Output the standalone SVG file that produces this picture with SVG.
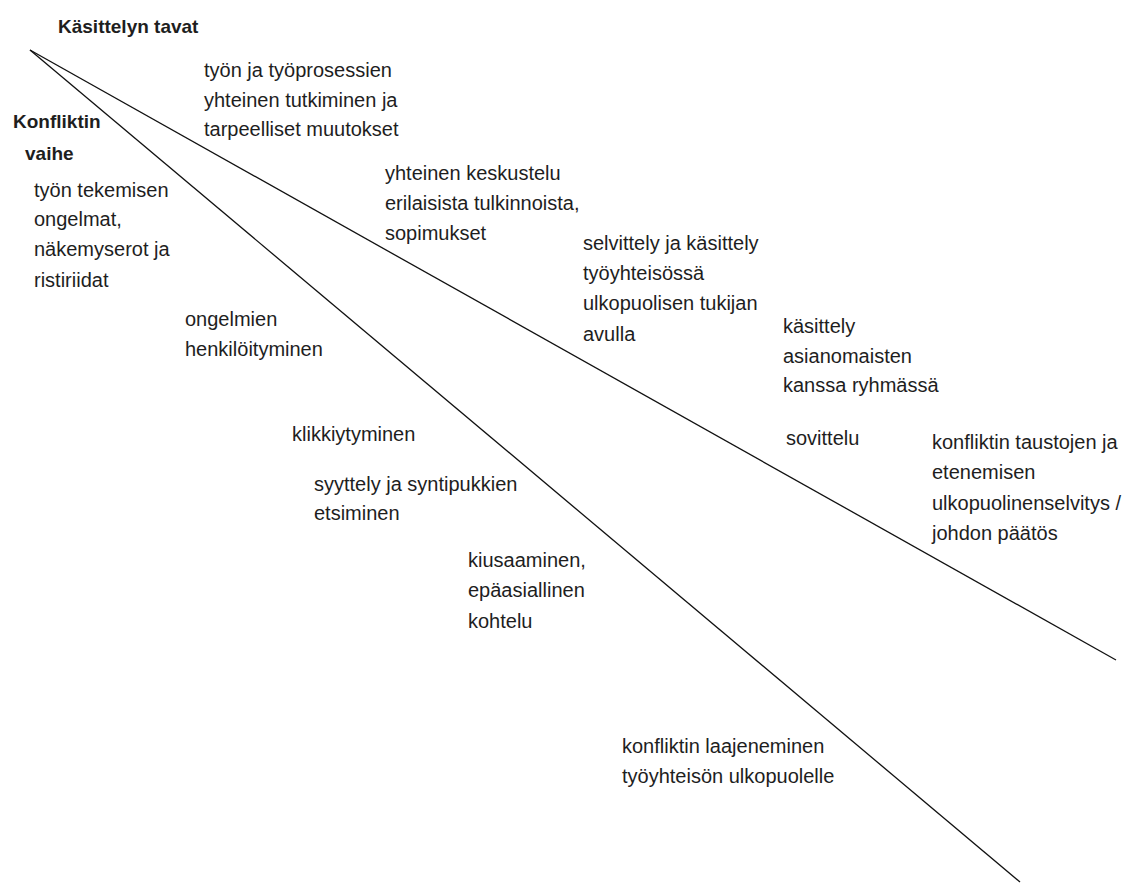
<svg xmlns="http://www.w3.org/2000/svg" width="1131" height="883" viewBox="0 0 1131 883">
  <style>
    .bg { fill: #ffffff; }
    .axis { stroke: #111111; stroke-width: 1.3; fill: none; }
    text { font-family: "Liberation Sans", Arial, sans-serif; font-size: 20px; fill: #1e1e1e; }
    .head { font-weight: bold; font-size: 19px; }
  </style>
  <rect class="bg" x="0" y="0" width="1131" height="883"/>

  <!-- two diverging lines from a common apex -->
  <g id="connectors">
    <line class="axis" x1="30" y1="50" x2="1116" y2="660"/>
    <line class="axis" x1="30" y1="50" x2="1020" y2="882"/>
  </g>

  <!-- headings -->
  <g id="heading-tavat">
    <text class="head" x="58" y="33">Käsittelyn tavat</text>
  </g>
  <g id="heading-vaihe">
    <text class="head" x="13" y="128">Konfliktin</text>
    <text class="head" x="25" y="160">vaihe</text>
  </g>

  <!-- handling methods (above the upper line) -->
  <g id="m1">
    <text x="204" y="77">työn ja työprosessien</text>
    <text x="204" y="107">yhteinen tutkiminen ja</text>
    <text x="204" y="136">tarpeelliset muutokset</text>
  </g>
  <g id="m2">
    <text x="385" y="180">yhteinen keskustelu</text>
    <text x="385" y="210">erilaisista tulkinnoista,</text>
    <text x="385" y="240">sopimukset</text>
  </g>
  <g id="m3">
    <text x="583" y="250">selvittely ja käsittely</text>
    <text x="583" y="280">työyhteisössä</text>
    <text x="583" y="310">ulkopuolisen tukijan</text>
    <text x="583" y="341">avulla</text>
  </g>
  <g id="m4">
    <text x="783" y="333">käsittely</text>
    <text x="783" y="363">asianomaisten</text>
    <text x="783" y="392">kanssa ryhmässä</text>
  </g>
  <g id="m5">
    <text x="786" y="445">sovittelu</text>
  </g>
  <g id="m6">
    <text x="932" y="449">konfliktin taustojen ja</text>
    <text x="932" y="479">etenemisen</text>
    <text x="932" y="510">ulkopuolinenselvitys /</text>
    <text x="932" y="540">johdon päätös</text>
  </g>

  <!-- conflict phases (below the lower line) -->
  <g id="p1">
    <text x="34" y="197">työn tekemisen</text>
    <text x="34" y="226">ongelmat,</text>
    <text x="34" y="256">näkemyserot ja</text>
    <text x="34" y="287">ristiriidat</text>
  </g>
  <g id="p2">
    <text x="185" y="326">ongelmien</text>
    <text x="185" y="356">henkilöityminen</text>
  </g>
  <g id="p3">
    <text x="292" y="441">klikkiytyminen</text>
  </g>
  <g id="p4">
    <text x="314" y="491">syyttely ja syntipukkien</text>
    <text x="314" y="520">etsiminen</text>
  </g>
  <g id="p5">
    <text x="468" y="567">kiusaaminen,</text>
    <text x="468" y="597">epäasiallinen</text>
    <text x="468" y="628">kohtelu</text>
  </g>
  <g id="p6">
    <text x="622" y="753">konfliktin laajeneminen</text>
    <text x="622" y="783">työyhteisön ulkopuolelle</text>
  </g>
</svg>
